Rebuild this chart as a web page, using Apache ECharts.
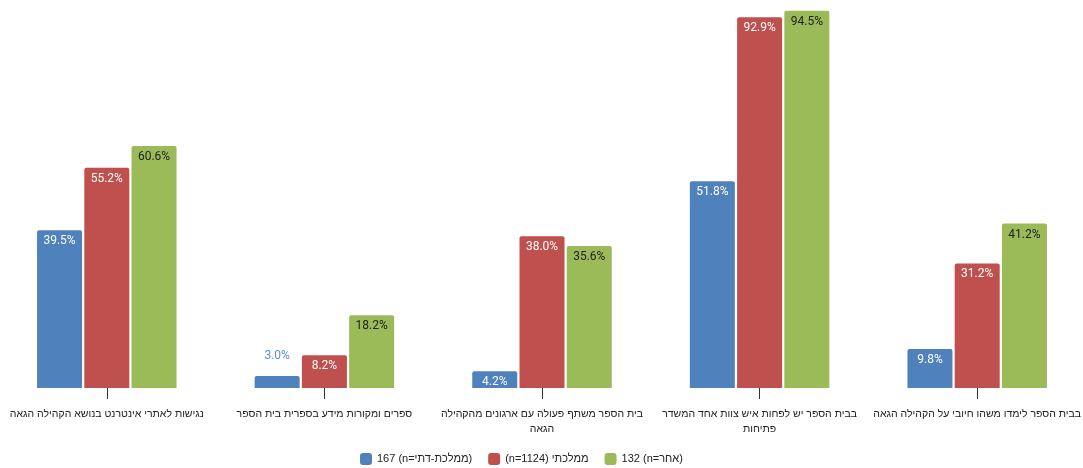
<!DOCTYPE html>
<html>
<head>
<meta charset="utf-8">
<script src="https://cdn.jsdelivr.net/npm/echarts@6/dist/echarts.min.js"></script>
<style>
html,body{margin:0;padding:0;background:#fff;}
#chart{width:1083px;height:468px;}
</style>
</head>
<body>
<div id="chart"></div>
<script>
// Categories in visual order, left to right
const categories = [
  'נגישות לאתרי אינטרנט בנושא הקהילה הגאה',
  'ספרים ומקורות מידע בספרית בית הספר',
  'בית הספר משתף פעולה עם ארגונים מהקהילה\nהגאה',
  'בבית הספר יש לפחות איש צוות אחד המשדר\nפתיחות',
  'בבית הספר לימדו משהו חיובי על הקהילה הגאה'
];
const seriesNames = ['167 (n=ממלכת-דתי)', '(n=1124) ממלכתי', '132 (n=אחר)'];
const stateReligious = [39.5, 3.0, 4.2, 51.8, 9.8];
const stateSchools = [55.2, 8.2, 38.0, 92.9, 31.2];
const otherSchools = [60.6, 18.2, 35.6, 94.5, 41.2];

const colors = ['#4F81BD', '#C0504D', '#9BBB59'];
const labelColors = ['#ffffff', '#ffffff', '#222222'];
const FONT = 'Roboto, "Liberation Sans", Arial, sans-serif';
const HEB_FONT = '"Liberation Sans", Arial, sans-serif';

function makeSeries(idx, values) {
  return {
    name: seriesNames[idx],
    type: 'bar',
    barWidth: 45,
    barGap: '5%',
    itemStyle: { color: colors[idx], borderRadius: [2, 2, 0, 0] },
    label: {
      show: true,
      position: 'insideTop',
      distance: 5,
      color: labelColors[idx],
      fontSize: 12,
      fontFamily: FONT,
      formatter: p => p.value.toFixed(1) + '%'
    },
    data: values.map(v => v < 4 ? {
      value: v,
      label: { position: 'top', distance: 14, color: '#5A8FD6' }
    } : v)
  };
}

const chart = echarts.init(document.getElementById('chart'));
chart.setOption({
  animation: false,
  textStyle: { fontFamily: FONT },
  legend: {
    bottom: 3,
    left: 360,
    padding: 0,
    itemWidth: 12,
    itemHeight: 12,
    itemGap: 16,
    icon: 'roundRect',
    textStyle: { fontSize: 11, color: '#222', fontFamily: HEB_FONT },
    data: seriesNames
  },
  grid: { left: -2, right: -3, top: 0, bottom: 80, containLabel: false, outerBoundsMode: 'none' },
  xAxis: {
    type: 'category',
    data: categories,
    axisLine: { show: false },
    axisTick: { show: true, alignWithLabel: true, length: 11, lineStyle: { color: '#333' } },
    axisLabel: { margin: 19, fontSize: 10.5, color: '#222', lineHeight: 15, fontFamily: HEB_FONT, interval: 0 }
  },
  yAxis: {
    type: 'value',
    min: 0,
    max: 97.2,
    show: false,
    splitLine: { show: false }
  },
  series: [
    makeSeries(0, stateReligious),
    makeSeries(1, stateSchools),
    makeSeries(2, otherSchools)
  ]
});
</script>
</body>
</html>
